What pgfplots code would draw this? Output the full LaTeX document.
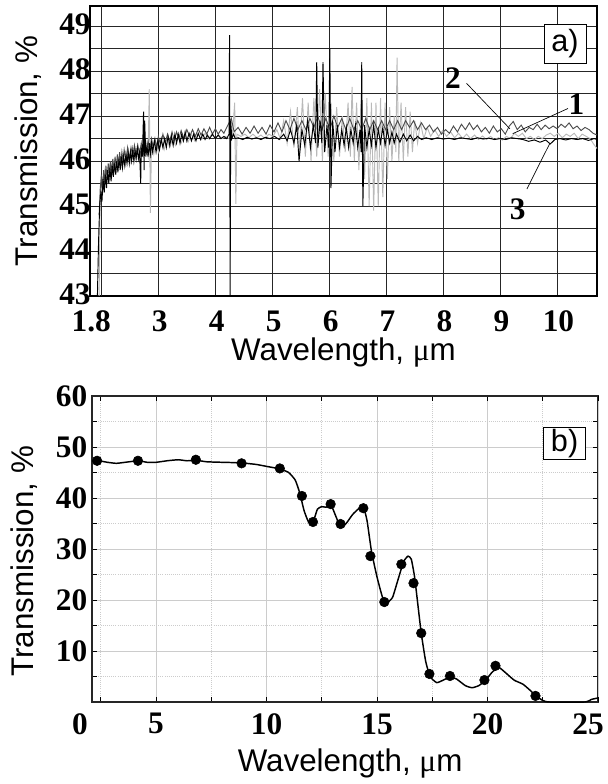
\documentclass[border=0pt]{standalone}
\usepackage{fontspec}
\setmainfont{Liberation Sans}
\newfontfamily\tnr{Liberation Serif}
\usepackage{pgfplots}
\pgfplotsset{compat=1.18}

\tikzset{
  ticknum/.style={font=\tnr\bfseries\fontsize{23.5}{24}\selectfont},
  axlab/.style={font=\fontsize{23.5}{24}\selectfont},
}

\begin{document}
\begin{tikzpicture}
\path[use as bounding box] (-69pt,-61.5pt) rectangle (386.25pt,526.5pt);

% ---------- panel a ----------
\begin{axis}[
  at={(-1.5pt,304.5pt)}, anchor=south west,
  scale only axis, width=380.25pt, height=217.5pt,
  xmin=1.8, xmax=10.7, ymin=43, ymax=49.45,
  xtick={1.8,3,4,5,6,7,8,9,10},
  xticklabels={1.8,3,4,5,6,7,8,9,10},
  extra x ticks={2}, extra x tick labels={},
  ytick={43,44,45,46,47,48,49},
  minor ytick={43.5,44.5,45.5,46.5,47.5,48.5,49.5},
  grid=both,
  major grid style={black!85, line width=0.75pt},
  minor grid style={black!85, line width=0.75pt},
  major tick length=0pt, minor tick length=0pt,
  axis line style={black, line width=0.8pt},
  tick label style={ticknum},
  /pgf/number format/assume math mode=true,
  yticklabel style={xshift=4pt, yshift=1.5pt},
  xticklabel style={yshift=-7.5pt, xshift=1pt},
  xlabel={Wavelength, {\tnr μ}m}, ylabel={Transmission, \%},
  label style={axlab},
  xlabel style={at={(axis description cs:0.5,-0.195)}, anchor=center},
  ylabel style={at={(axis description cs:-0.122,0.5)}, anchor=center},
  clip=true,
]
% curve 3 (light grey)
\addplot[gray!55, line width=0.7pt] coordinates {
(1.96,43.0)(1.98,45.2)(2.02,45.5)(2.06,45.8)(2.10,45.55)(2.14,45.9)(2.18,45.65)(2.22,46.0)(2.26,45.75)(2.30,46.05)(2.34,45.85)(2.38,46.1)(2.42,45.9)(2.46,46.15)(2.50,45.95)(2.54,46.2)(2.58,46.0)(2.62,46.25)(2.66,46.05)(2.70,46.3)(2.74,46.1)(2.78,46.3)(2.82,46.1)(2.84,47.6)(2.86,44.85)(2.88,46.4)(2.92,46.15)(2.96,46.4)(3.00,46.2)(3.05,46.45)(3.10,46.25)(3.15,46.5)(3.20,46.3)(3.25,46.5)(3.30,46.35)(3.35,46.55)(3.40,46.4)(3.46,46.58)(3.52,46.42)(3.58,46.6)(3.64,46.45)(3.70,46.6)(3.76,46.48)(3.82,46.62)(3.88,46.5)(3.94,46.6)(4.00,46.5)(4.06,46.58)(4.12,46.5)(4.18,46.55)(4.24,46.5)(4.30,46.6)(4.34,47.3)(4.36,45.05)(4.38,46.6)(4.45,46.55)(4.52,46.6)(4.59,46.52)(4.66,46.6)(4.73,46.52)(4.80,46.58)(4.87,46.5)(4.94,46.6)(5.01,46.55)(5.08,46.7)(5.14,46.5)(5.20,46.9)(5.26,46.4)(5.32,47.1)(5.38,46.3)(5.44,47.2)(5.48,46.2)(5.53,47.4)(5.58,46.1)(5.63,47.3)(5.68,46.0)(5.73,47.4)(5.78,46.1)(5.83,47.6)(5.88,46.0)(5.93,47.5)(5.98,46.1)(6.03,47.3)(6.08,46.0)(6.13,47.2)(6.18,46.1)(6.23,47.0)(6.28,46.2)(6.33,47.3)(6.37,46.1)(6.40,47.65)(6.44,46.0)(6.48,47.3)(6.52,45.8)(6.56,47.5)(6.62,45.6)(6.66,47.4)(6.70,45.0)(6.74,47.3)(6.78,44.9)(6.82,47.3)(6.86,45.0)(6.90,47.4)(6.94,45.2)(6.98,47.3)(7.02,45.6)(7.06,47.2)(7.10,46.0)(7.14,47.0)(7.17,46.2)(7.19,48.3)(7.22,46.0)(7.26,47.3)(7.30,46.0)(7.34,47.2)(7.38,46.1)(7.42,47.1)(7.46,46.2)(7.50,46.9)(7.55,46.4)(7.60,46.85)(7.66,46.5)(7.72,46.75)(7.78,46.55)(7.85,46.7)(7.92,46.55)(7.99,46.68)(8.06,46.55)(8.13,46.65)(8.20,46.52)(8.27,46.62)(8.34,46.5)(8.41,46.6)(8.48,46.5)(8.55,46.58)(8.62,46.48)(8.69,46.56)(8.76,46.48)(8.83,46.55)(8.90,46.48)(8.97,46.52)(9.04,46.47)(9.11,46.55)(9.18,46.5)(9.25,46.62)(9.32,46.55)(9.39,46.62)(9.46,46.5)(9.53,46.55)(9.60,46.48)(9.67,46.55)(9.74,46.5)(9.81,46.58)(9.88,46.62)(9.95,46.55)(10.02,46.62)(10.09,46.52)(10.16,46.6)(10.23,46.55)(10.30,46.62)(10.37,46.5)(10.44,46.6)(10.51,46.55)(10.58,46.5)(10.64,46.38)(10.70,46.28)
};
% curve 2 (dark grey)
\addplot[black!70, line width=0.7pt] coordinates {
(1.96,44.8)(1.98,45.4)(2.00,45.7)(2.02,45.4)(2.04,45.8)(2.06,45.5)(2.08,45.9)(2.10,45.6)(2.12,45.95)(2.14,45.7)(2.16,46.0)(2.18,45.75)(2.20,46.05)(2.22,45.8)(2.24,46.1)(2.26,45.85)(2.28,46.15)(2.30,45.9)(2.32,46.2)(2.34,45.95)(2.36,46.2)(2.38,46.0)(2.40,46.25)(2.43,46.0)(2.46,46.3)(2.49,46.05)(2.52,46.3)(2.55,46.1)(2.58,46.35)(2.61,46.1)(2.64,46.35)(2.67,46.15)(2.70,46.4)(2.73,46.15)(2.76,46.4)(2.79,46.2)(2.82,46.45)(2.85,46.25)(2.88,46.5)(2.91,46.3)(2.94,46.5)(2.97,46.3)(3.00,46.55)(3.04,46.35)(3.08,46.6)(3.12,46.4)(3.16,46.6)(3.20,46.45)(3.24,46.65)(3.28,46.45)(3.32,46.65)(3.36,46.5)(3.40,46.68)(3.45,46.5)(3.50,46.7)(3.55,46.55)(3.60,46.7)(3.65,46.55)(3.70,46.72)(3.75,46.58)(3.80,46.72)(3.85,46.6)(3.90,46.75)(3.95,46.6)(4.00,46.72)(4.05,46.6)(4.10,46.7)(4.15,46.62)(4.20,46.75)(4.28,46.95)(4.33,46.65)(4.40,46.75)(4.47,46.6)(4.54,46.75)(4.61,46.62)(4.68,46.78)(4.75,46.62)(4.82,46.75)(4.89,46.6)(4.96,46.8)(5.03,46.65)(5.10,46.85)(5.17,46.65)(5.24,46.9)(5.31,46.7)(5.38,46.95)(5.45,46.7)(5.52,46.9)(5.59,46.7)(5.66,46.95)(5.73,46.75)(5.80,47.0)(5.87,46.7)(5.94,46.95)(6.01,46.7)(6.08,47.0)(6.15,46.75)(6.22,46.95)(6.29,46.7)(6.36,46.95)(6.43,46.7)(6.50,46.9)(6.57,46.7)(6.64,46.95)(6.71,46.7)(6.78,46.9)(6.85,46.7)(6.92,46.9)(6.99,46.7)(7.06,46.9)(7.13,46.7)(7.20,46.9)(7.27,46.7)(7.34,46.9)(7.41,46.75)(7.48,46.9)(7.55,46.7)(7.62,46.85)(7.69,46.7)(7.76,46.8)(7.83,46.65)(7.90,46.75)(7.97,46.6)(8.04,46.7)(8.11,46.62)(8.18,46.78)(8.25,46.65)(8.32,46.82)(8.39,46.7)(8.46,46.85)(8.53,46.7)(8.60,46.8)(8.67,46.65)(8.74,46.75)(8.81,46.62)(8.88,46.78)(8.95,46.65)(9.02,46.72)(9.09,46.6)(9.16,46.78)(9.23,46.88)(9.30,46.7)(9.37,46.8)(9.44,46.65)(9.51,46.75)(9.58,46.7)(9.65,46.82)(9.72,46.7)(9.79,46.8)(9.86,46.72)(9.93,46.78)(10.00,46.72)(10.07,46.82)(10.14,46.75)(10.21,46.85)(10.28,46.72)(10.35,46.78)(10.42,46.68)(10.49,46.75)(10.56,46.7)(10.63,46.62)(10.70,46.58)
};
% curve 1 (black)
\addplot[black, line width=0.7pt] coordinates {
(1.93,43.0)(1.95,44.2)(1.97,45.0)(1.99,45.3)(2.01,45.1)(2.03,45.6)(2.05,45.3)(2.07,45.7)(2.09,45.4)(2.11,45.8)(2.13,45.5)(2.15,45.85)(2.17,45.55)(2.19,45.9)(2.21,45.65)(2.23,45.95)(2.25,45.7)(2.27,46.0)(2.29,45.75)(2.31,46.05)(2.33,45.8)(2.35,46.1)(2.37,45.85)(2.39,46.1)(2.41,45.9)(2.43,46.15)(2.45,45.95)(2.47,46.2)(2.49,45.95)(2.51,46.2)(2.53,46.0)(2.55,46.25)(2.57,46.0)(2.59,46.25)(2.61,46.05)(2.63,46.3)(2.65,46.05)(2.67,46.2)(2.69,45.5)(2.70,46.3)(2.72,46.1)(2.74,47.1)(2.75,45.8)(2.76,46.9)(2.78,46.1)(2.80,46.35)(2.82,46.1)(2.84,46.4)(2.86,46.15)(2.88,46.4)(2.90,46.2)(2.93,46.45)(2.96,46.2)(2.99,46.45)(3.02,46.25)(3.05,46.5)(3.08,46.3)(3.11,46.5)(3.14,46.3)(3.17,46.55)(3.20,46.35)(3.23,46.55)(3.26,46.35)(3.29,46.6)(3.32,46.4)(3.35,46.6)(3.38,46.4)(3.41,46.6)(3.44,46.45)(3.47,46.65)(3.50,46.45)(3.54,46.62)(3.58,46.45)(3.62,46.6)(3.66,46.45)(3.70,46.62)(3.74,46.48)(3.78,46.6)(3.82,46.48)(3.86,46.58)(3.90,46.5)(3.95,46.6)(4.00,46.5)(4.05,46.58)(4.10,46.5)(4.15,46.55)(4.20,46.5)(4.24,46.6)(4.25,48.8)(4.26,43.0)(4.27,46.9)(4.29,46.5)(4.32,46.6)(4.35,46.5)(4.40,46.52)(4.48,46.48)(4.56,46.53)(4.64,46.49)(4.72,46.52)(4.80,46.48)(4.88,46.53)(4.96,46.5)(5.04,46.55)(5.12,46.48)(5.20,46.6)(5.26,46.45)(5.32,46.7)(5.38,46.4)(5.43,46.8)(5.47,46.0)(5.52,46.7)(5.57,46.35)(5.62,46.9)(5.67,46.3)(5.72,46.8)(5.76,46.4)(5.78,48.2)(5.80,46.3)(5.84,46.9)(5.87,46.4)(5.89,48.2)(5.92,46.2)(5.96,46.8)(5.99,46.3)(6.01,48.5)(6.03,45.4)(6.06,46.9)(6.10,46.2)(6.14,46.8)(6.18,46.3)(6.22,46.7)(6.26,46.35)(6.30,46.75)(6.34,46.3)(6.38,46.7)(6.42,46.4)(6.46,46.8)(6.50,46.3)(6.54,46.7)(6.56,46.2)(6.57,48.2)(6.59,45.0)(6.62,46.8)(6.66,46.3)(6.70,46.7)(6.74,46.35)(6.78,46.8)(6.82,46.3)(6.86,46.7)(6.90,46.4)(6.94,46.75)(6.98,46.35)(7.02,46.7)(7.06,46.4)(7.10,46.65)(7.14,46.4)(7.18,46.6)(7.24,46.42)(7.30,46.6)(7.36,46.45)(7.42,46.58)(7.48,46.45)(7.55,46.55)(7.62,46.48)(7.70,46.52)(7.80,46.48)(7.90,46.52)(8.00,46.49)(8.10,46.51)(8.20,46.48)(8.30,46.52)(8.40,46.5)(8.50,46.48)(8.60,46.52)(8.70,46.49)(8.80,46.51)(8.90,46.48)(9.00,46.5)(9.10,46.48)(9.20,46.52)(9.30,46.5)(9.40,46.48)(9.50,46.44)(9.60,46.47)(9.70,46.42)(9.80,46.47)(9.88,46.38)(9.96,46.48)(10.05,46.5)(10.15,46.47)(10.25,46.5)(10.35,46.48)(10.45,46.5)(10.55,46.46)(10.65,46.5)(10.70,46.48)
};
\draw[black, line width=0.5pt] (axis cs:8.41,47.73) -- (axis cs:9.17,46.72);
\draw[black, line width=0.5pt] (axis cs:10.19,47.17) -- (axis cs:9.22,46.61);
\draw[black, line width=0.5pt] (axis cs:9.47,45.38) -- (axis cs:9.87,46.39);
\node[ticknum] at (axis cs:8.17,47.84) {2};
\node[ticknum] at (axis cs:10.34,47.26) {1};
\node[ticknum] at (axis cs:9.31,44.92) {3};
\node[draw=black, fill=white, line width=0.8pt, font=\fontsize{23}{23}\selectfont,
      minimum width=31.5pt, minimum height=29pt, inner sep=1pt]
  at (rel axis cs:0.937,0.869) {a)};
\end{axis}

% ---------- panel b ----------
\begin{axis}[
  at={(0pt,0pt)}, anchor=south west,
  scale only axis, width=379.5pt, height=229.5pt,
  xmin=2.1, xmax=25, ymin=0, ymax=60,
  xtick={5,10,15,20},
  extra x ticks={25}, extra x tick labels={},
  minor xtick={2.5,7.5,12.5,17.5,22.5},
  ytick={10,20,30,40,50,60},
  minor ytick={5,15,25,35,45,55},
  grid=both,
  major grid style={gray!40, line width=0.6pt},
  minor grid style={gray!40, line width=0.6pt, densely dotted},
  tick align=inside, major tick length=3.5pt, minor tick length=3.5pt,
  tick style={black, line width=0.6pt},
  axis line style={black!85, line width=1.1pt},
  tick label style={ticknum},
  /pgf/number format/assume math mode=true,
  yticklabel style={xshift=0pt},
  xticklabel style={yshift=-5pt},
  xlabel={Wavelength, {\tnr μ}m}, ylabel={Transmission, \%},
  label style={axlab},
  xlabel style={at={(axis description cs:0.51,-0.2)}, anchor=center},
  ylabel style={at={(axis description cs:-0.134,0.46)}, anchor=center},
  clip=false,
]
\addplot[black, line width=1.1pt, smooth, tension=0.3] coordinates {
(2.1,47.2)(2.4,47.3)(2.8,47.0)(3.2,46.8)(3.6,47.0)(4.2,47.3)(4.6,47.0)(5.0,47.0)(5.5,47.3)(6.0,47.5)(6.4,47.3)(6.8,47.4)(7.3,47.1)(8.0,47.0)(8.8,46.9)(9.5,46.6)(10.0,46.2)(10.6,45.7)(11.0,45.0)(11.3,43.5)(11.5,41.0)(11.7,37.5)(11.9,35.3)(12.1,35.2)(12.3,37.8)(12.5,38.3)(12.7,38.2)(12.9,38.8)(13.1,36.8)(13.35,34.3)(13.6,35.0)(13.9,36.8)(14.2,38.0)(14.4,38.0)(14.55,35.5)(14.75,29.5)(15.0,24.5)(15.25,20.5)(15.45,19.5)(15.7,20.5)(15.95,24.0)(16.2,27.5)(16.4,28.6)(16.55,28.0)(16.7,24.5)(16.85,19.0)(17.0,13.5)(17.2,8.0)(17.4,5.0)(17.7,3.8)(18.0,4.3)(18.3,4.9)(18.6,4.5)(19.0,3.2)(19.3,2.8)(19.6,3.2)(19.9,4.2)(20.2,5.8)(20.5,6.8)(20.8,5.8)(21.2,4.3)(21.6,3.5)(21.9,2.4)(22.2,1.2)(22.5,0.3)(22.8,0.0)(24.4,0.0)(24.7,0.5)(25,0.8)
};
\addplot[only marks, mark=*, mark size=3.6pt, black] coordinates {
(2.33,47.3)(4.18,47.3)(6.8,47.5)(8.87,46.8)(10.6,45.8)(11.6,40.4)(12.1,35.3)(12.9,38.8)(13.35,34.9)(14.38,38.0)(14.7,28.6)(15.33,19.6)(16.1,27.0)(16.65,23.3)(17.0,13.5)(17.37,5.5)(18.3,5.1)(19.86,4.3)(20.36,7.1)(22.17,1.2)
};
\node[ticknum, anchor=north] at ([yshift=-5pt]axis description cs:-0.024,0) {0};
\node[ticknum, anchor=north east, inner xsep=0pt] at ([xshift=4.5pt,yshift=-5pt]axis description cs:1,0) {25};
\node[draw=black, fill=white, line width=0.8pt, font=\fontsize{23}{23}\selectfont,
      minimum width=32pt, minimum height=22pt, inner sep=1pt]
  at (rel axis cs:0.934,0.845) {b)};
\end{axis}
\end{tikzpicture}
\end{document}
